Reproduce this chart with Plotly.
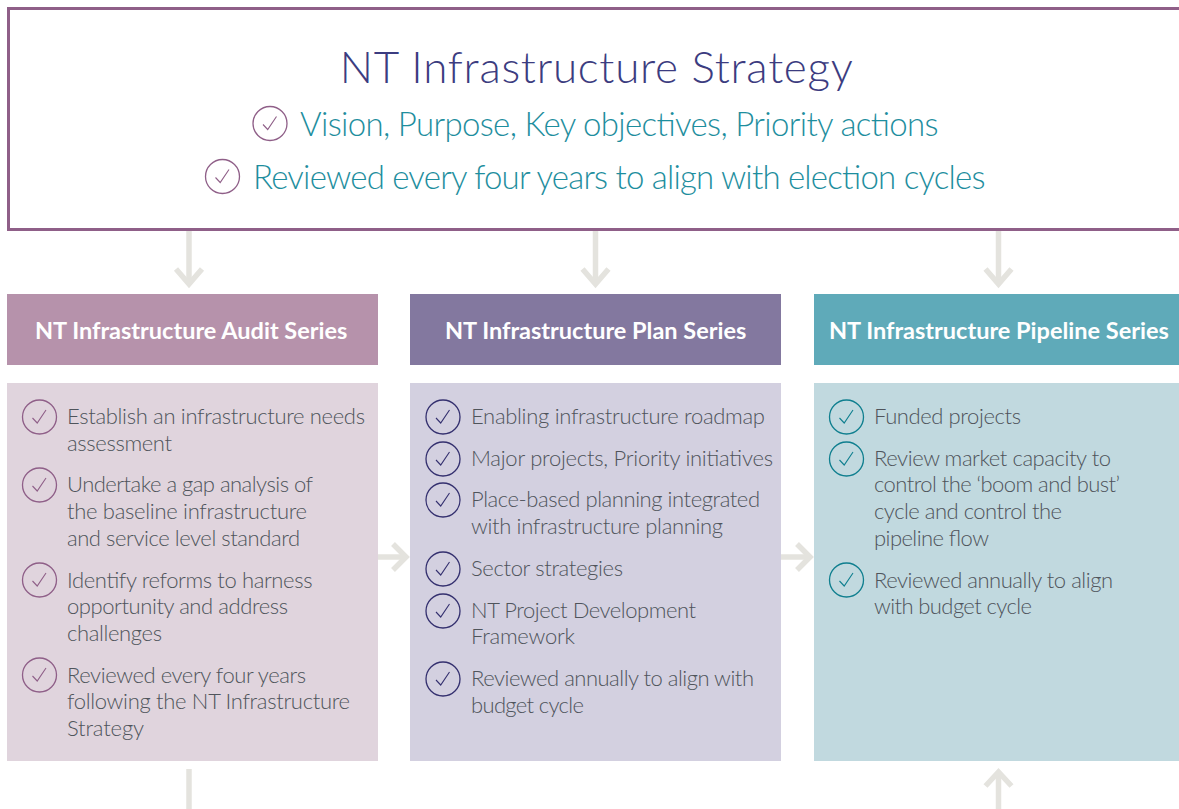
import json
import plotly.graph_objects as go

TITLE = "NT Infrastructure Strategy"
TOP_ITEMS = ["Vision, Purpose, Key objectives, Priority actions",
             "Reviewed every four years to align with election cycles"]
HEADERS = ["NT Infrastructure Audit Series", "NT Infrastructure Plan Series", "NT Infrastructure Pipeline Series"]
AUDIT_ITEMS = [["Establish an infrastructure needs", "assessment"],
               ["Undertake a gap analysis of", "the baseline infrastructure", "and service level standard"],
               ["Identify reforms to harness", "opportunity and address", "challenges"],
               ["Reviewed every four years", "following the NT Infrastructure", "Strategy"]]
PLAN_ITEMS = [["Enabling infrastructure roadmap"],
              ["Major projects, Priority initiatives"],
              ["Place-based planning integrated", "with infrastructure planning"],
              ["Sector strategies"],
              ["NT Project Development", "Framework"],
              ["Reviewed annually to align with", "budget cycle"]]
PIPELINE_ITEMS = [["Funded projects"],
                  ["Review market capacity to", "control the ‘boom and bust’", "cycle and control the", "pipeline flow"],
                  ["Reviewed annually to align", "with budget cycle"]]

# right-hand end of each text line
AUDIT_ENDS = [365, 172, 313, 307, 300, 312.5, 288, 162, 306, 350, 144]
PLAN_ENDS = [765, 773, 760, 723, 623, 696, 575, 754, 584]
PIPELINE_ENDS = [1021, 1111, 1120, 1062, 989, 1113, 1032]

FONT = "Lato"
shapes, ann = [], []
fit = {}

def rect(x0, y0, x1, y1, fill):
    shapes.append(dict(type="rect", x0=x0, y0=y0, x1=x1, y1=y1, fillcolor=fill, line_width=0, layer="below"))

def text(x, y, s, size, color, anchor="left", weight=300):
    ann.append(dict(x=x, y=y, text=s, showarrow=False, xanchor=anchor, yanchor="middle", align=anchor,
                    font=dict(family=FONT, size=size, color=color, weight=weight)))

def tick(cx, cy, r, color):
    shapes.append(dict(type="circle", x0=cx-r, y0=cy-r, x1=cx+r, y1=cy+r, line=dict(color=color, width=1.3)))
    k = r / 17
    shapes.append(dict(type="path", path=f"M{cx-7*k},{cy+1*k} L{cx-2.3*k},{cy+6*k} L{cx+6.5*k},{cy-7*k}",
                       line=dict(color=color, width=1.1)))

def arrow(path):
    shapes.append(dict(type="path", path=path, line=dict(color="#e4e3de", width=5.5), layer="below"))

# top panel
shapes.append(dict(type="rect", x0=8.5, y0=8.5, x1=1200, y1=229.5, line=dict(color="#8f5f88", width=3), fillcolor="white"))
text(596.5, 66, TITLE, 44, "#3c3c80", "center", 300)
fit[TITLE] = 513
tick(270, 123.5, 17, "#8f5f88")
tick(222.5, 176.5, 17, "#8f5f88")
text(297.5, 123, TOP_ITEMS[0], 33, "#1e8e9e")
text(250.5, 176, TOP_ITEMS[1], 33, "#1e8e9e")
fit[TOP_ITEMS[0]] = 938 - 297.5 - 2
fit[TOP_ITEMS[1]] = 985 - 250.5 - 2

# columns
COLS = [dict(x0=7, x1=378, hx=190.5, head="#b692ab", body="#e0d4dd", ring="#8f5f88", tx=65, cx=39.5, items=AUDIT_ITEMS,
             ends=AUDIT_ENDS, lines=[415, 442, 483, 510, 537, 579, 605, 632, 674, 700, 727], cy=[417, 485, 580, 675]),
        dict(x0=410, x1=781, hx=595, head="#83789f", body="#d3d0e0", ring="#34306f", tx=469, cx=443, items=PLAN_ITEMS,
             ends=PLAN_ENDS, lines=[415, 457, 498, 525, 567, 609, 635, 677, 704], cy=[417, 459, 500, 569, 611, 679]),
        dict(x0=814, x1=1179, hx=999, head="#5faab9", body="#c1d9df", ring="#0f7f8f", tx=872, cx=846.5, items=PIPELINE_ITEMS,
             ends=PIPELINE_ENDS, lines=[415, 457, 483, 510, 537, 579, 605], cy=[417, 459, 580])]
for c, h in zip(COLS, HEADERS):
    rect(c["x0"], 294, c["x1"], 365, c["head"])
    rect(c["x0"], 383, c["x1"], 761, c["body"])
    text(c["hx"], 330, h, 23.5, "white", "center", 700)
    for cy in c["cy"]:
        tick(c["cx"], cy, 17, c["ring"])
    flat = [l for it in c["items"] for l in it]
    for y, s, e in zip(c["lines"], flat, c["ends"]):
        text(c["tx"], y, s, 22, "#4f545b")
        fit[s + "@" + str(c["tx"])] = e - c["tx"] - 2

# arrows
for x in (189, 595.5, 998.5):
    arrow(f"M{x},231 L{x},284")
    arrow(f"M{x-13},269 L{x},284 L{x+13},269")
for x0, x1 in ((378, 407), (781, 811)):
    arrow(f"M{x0},557 L{x1},557")
    arrow(f"M{x1-14},544 L{x1-1},557 L{x1-14},570")
arrow("M189,769 L189,809")
arrow("M998.5,775 L998.5,809")
arrow("M985.5,786 L998.5,772 L1011.5,786")

fig = go.Figure()
fig.update_layout(width=1179, height=809, margin=dict(l=0, r=0, t=0, b=0),
                  paper_bgcolor="white", plot_bgcolor="white", showlegend=False,
                  xaxis=dict(range=[0, 1179], visible=False, fixedrange=True),
                  yaxis=dict(range=[809, 0], visible=False, fixedrange=True),
                  shapes=shapes, annotations=ann)
# same line text can occur in two columns, so body lines are matched in drawing order
order = []
for a in ann:
    key = a["text"]
    if key not in fit:
        for c in COLS:
            if a["x"] == c["tx"] and key + "@" + str(c["tx"]) in fit:
                key = key + "@" + str(c["tx"])
    order.append(fit.get(key))
FIT_JS = """
document.body.style.margin='0';document.body.style.overflow='hidden';
var W=%s;
document.querySelectorAll('text.annotation-text').forEach(function(t,i){
  if(W[i]){t.setAttribute('textLength',W[i]);t.setAttribute('lengthAdjust','spacing');}
});
""" % json.dumps(order)
fig.write_html("out.html", config=dict(displayModeBar=False, responsive=False), post_script=FIT_JS)
